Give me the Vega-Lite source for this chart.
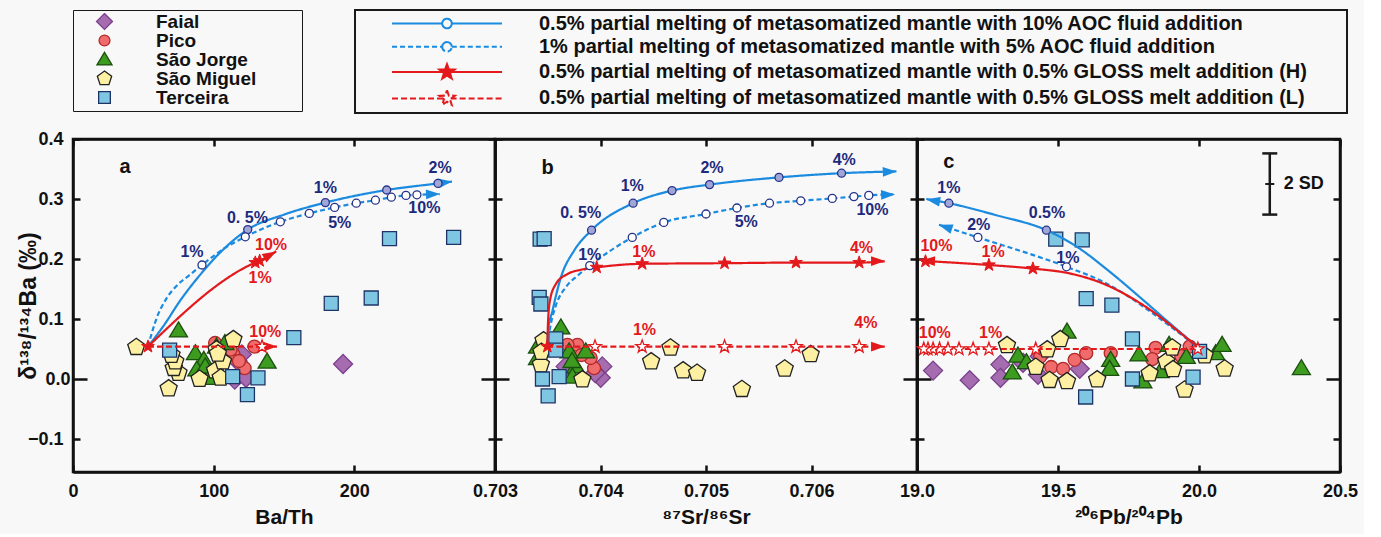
{
"$schema": "https://vega.github.io/schema/vega-lite/v6.json",
"background": "#f8f8f8",
"padding": {"left": 16, "top": 9, "right": 5, "bottom": 5},
"spacing": 0,
"bounds": "flush",
"datasets": {
"pts": [
{"p":"a","i":"Faial","x":192,"y":0.025},{"p":"a","i":"Faial","x":120,"y":0.041},{"p":"a","i":"Faial","x":115,"y":-0.001},{"p":"a","i":"Faial","x":123,"y":0.002},{"p":"a","i":"Faial","x":117,"y":0.03},
{"p":"a","i":"Pico","x":129,"y":0.054},{"p":"a","i":"Pico","x":114,"y":0.041},{"p":"a","i":"Pico","x":122,"y":0.018},{"p":"a","i":"Pico","x":112,"y":0.049},{"p":"a","i":"Pico","x":101,"y":0.06},{"p":"a","i":"Pico","x":118,"y":0.03},
{"p":"a","i":"São Jorge","x":75,"y":0.081},{"p":"a","i":"São Jorge","x":87,"y":0.043},{"p":"a","i":"São Jorge","x":138,"y":0.029},{"p":"a","i":"São Jorge","x":93,"y":0.032},{"p":"a","i":"São Jorge","x":88,"y":0.016},{"p":"a","i":"São Jorge","x":96,"y":0.002},{"p":"a","i":"São Jorge","x":102,"y":0.054},{"p":"a","i":"São Jorge","x":94,"y":0.021},{"p":"a","i":"São Jorge","x":108,"y":0.06},
{"p":"a","i":"São Miguel","x":45,"y":0.053},{"p":"a","i":"São Miguel","x":68,"y":-0.016},{"p":"a","i":"São Miguel","x":75,"y":0.01},{"p":"a","i":"São Miguel","x":71.6,"y":0.018},{"p":"a","i":"São Miguel","x":72.7,"y":0.029},{"p":"a","i":"São Miguel","x":90,"y":0.0},{"p":"a","i":"São Miguel","x":101,"y":0.014},{"p":"a","i":"São Miguel","x":102,"y":0.049},{"p":"a","i":"São Miguel","x":114,"y":0.066},{"p":"a","i":"São Miguel","x":106.6,"y":0.029},{"p":"a","i":"São Miguel","x":105,"y":0.002},{"p":"a","i":"São Miguel","x":70,"y":0.04},{"p":"a","i":"São Miguel","x":103,"y":0.042},
{"p":"a","i":"Terceira","x":68.7,"y":0.048},{"p":"a","i":"Terceira","x":157,"y":0.069},{"p":"a","i":"Terceira","x":183.6,"y":0.126},{"p":"a","i":"Terceira","x":212,"y":0.135},{"p":"a","i":"Terceira","x":113.5,"y":0.004},{"p":"a","i":"Terceira","x":131.5,"y":0.002},{"p":"a","i":"Terceira","x":124,"y":-0.026},{"p":"a","i":"Terceira","x":225,"y":0.234},{"p":"a","i":"Terceira","x":270.6,"y":0.236},
{"p":"b","i":"Faial","x":0.704017,"y":0.021},{"p":"b","i":"Faial","x":0.704002,"y":0.002},{"p":"b","i":"Faial","x":0.70367,"y":0.021},{"p":"b","i":"Faial","x":0.70395,"y":0.01},
{"p":"b","i":"Pico","x":0.703781,"y":0.057},{"p":"b","i":"Pico","x":0.703687,"y":0.057},{"p":"b","i":"Pico","x":0.703939,"y":0.018},{"p":"b","i":"Pico","x":0.703907,"y":0.035},{"p":"b","i":"Pico","x":0.70382,"y":0.04},
{"p":"b","i":"São Jorge","x":0.703624,"y":0.086},{"p":"b","i":"São Jorge","x":0.703702,"y":0.046},{"p":"b","i":"São Jorge","x":0.70386,"y":0.046},{"p":"b","i":"São Jorge","x":0.703765,"y":0.021},{"p":"b","i":"São Jorge","x":0.703734,"y":0.004},{"p":"b","i":"São Jorge","x":0.703403,"y":0.054},{"p":"b","i":"São Jorge","x":0.703403,"y":0.035},{"p":"b","i":"São Jorge","x":0.70373,"y":0.03},
{"p":"b","i":"São Miguel","x":0.704663,"y":0.052},{"p":"b","i":"São Miguel","x":0.70448,"y":0.029},{"p":"b","i":"São Miguel","x":0.704783,"y":0.014},{"p":"b","i":"São Miguel","x":0.704915,"y":0.01},{"p":"b","i":"São Miguel","x":0.70534,"y":-0.017},{"p":"b","i":"São Miguel","x":0.705746,"y":0.017},{"p":"b","i":"São Miguel","x":0.705992,"y":0.041},{"p":"b","i":"São Miguel","x":0.703828,"y":-0.001},{"p":"b","i":"São Miguel","x":0.703435,"y":0.024},{"p":"b","i":"São Miguel","x":0.70346,"y":0.064},{"p":"b","i":"São Miguel","x":0.70344,"y":0.045},
{"p":"b","i":"Terceira","x":0.703428,"y":0.233},{"p":"b","i":"Terceira","x":0.703466,"y":0.234},{"p":"b","i":"Terceira","x":0.703419,"y":0.136},{"p":"b","i":"Terceira","x":0.703435,"y":0.125},{"p":"b","i":"Terceira","x":0.703576,"y":0.067},{"p":"b","i":"Terceira","x":0.703576,"y":0.048},{"p":"b","i":"Terceira","x":0.70345,"y":0.0},{"p":"b","i":"Terceira","x":0.703608,"y":0.004},{"p":"b","i":"Terceira","x":0.703504,"y":-0.028},
{"p":"c","i":"Faial","x":19.057,"y":0.014},{"p":"c","i":"Faial","x":19.187,"y":-0.002},{"p":"c","i":"Faial","x":19.296,"y":0.024},{"p":"c","i":"Faial","x":19.296,"y":0.002},{"p":"c","i":"Faial","x":19.429,"y":0.007},{"p":"c","i":"Faial","x":19.577,"y":0.017},{"p":"c","i":"Faial","x":19.376,"y":0.027},{"p":"c","i":"Faial","x":19.435,"y":0.038},
{"p":"c","i":"Pico","x":19.476,"y":0.02},{"p":"c","i":"Pico","x":19.518,"y":0.017},{"p":"c","i":"Pico","x":19.559,"y":0.032},{"p":"c","i":"Pico","x":19.6,"y":0.043},{"p":"c","i":"Pico","x":19.687,"y":0.043},{"p":"c","i":"Pico","x":19.846,"y":0.052},{"p":"c","i":"Pico","x":19.834,"y":0.033},{"p":"c","i":"Pico","x":19.967,"y":0.054},{"p":"c","i":"Pico","x":19.937,"y":0.038},{"p":"c","i":"Pico","x":19.437,"y":0.037},
{"p":"c","i":"São Jorge","x":19.532,"y":0.079},{"p":"c","i":"São Jorge","x":19.358,"y":0.039},{"p":"c","i":"São Jorge","x":19.388,"y":0.028},{"p":"c","i":"São Jorge","x":19.338,"y":0.011},{"p":"c","i":"São Jorge","x":19.687,"y":0.032},{"p":"c","i":"São Jorge","x":19.683,"y":0.017},{"p":"c","i":"São Jorge","x":19.787,"y":0.041},{"p":"c","i":"São Jorge","x":19.801,"y":-0.004},{"p":"c","i":"São Jorge","x":19.863,"y":0.013},{"p":"c","i":"São Jorge","x":19.894,"y":0.057},{"p":"c","i":"São Jorge","x":19.955,"y":0.037},{"p":"c","i":"São Jorge","x":20.059,"y":0.043},{"p":"c","i":"São Jorge","x":20.082,"y":0.057},{"p":"c","i":"São Jorge","x":20.363,"y":0.018},
{"p":"c","i":"São Miguel","x":19.319,"y":0.056},{"p":"c","i":"São Miguel","x":19.508,"y":0.066},{"p":"c","i":"São Miguel","x":19.462,"y":0.049},{"p":"c","i":"São Miguel","x":19.421,"y":0.02},{"p":"c","i":"São Miguel","x":19.47,"y":-0.002},{"p":"c","i":"São Miguel","x":19.532,"y":-0.004},{"p":"c","i":"São Miguel","x":19.639,"y":-0.001},{"p":"c","i":"São Miguel","x":19.825,"y":0.009},{"p":"c","i":"São Miguel","x":19.884,"y":0.029},{"p":"c","i":"São Miguel","x":19.905,"y":0.052},{"p":"c","i":"São Miguel","x":19.908,"y":0.016},{"p":"c","i":"São Miguel","x":19.949,"y":-0.018},{"p":"c","i":"São Miguel","x":20.02,"y":0.039},{"p":"c","i":"São Miguel","x":20.091,"y":0.017},
{"p":"c","i":"Terceira","x":19.492,"y":0.233},{"p":"c","i":"Terceira","x":19.586,"y":0.232},{"p":"c","i":"Terceira","x":19.6,"y":0.134},{"p":"c","i":"Terceira","x":19.691,"y":0.123},{"p":"c","i":"Terceira","x":19.764,"y":0.067},{"p":"c","i":"Terceira","x":19.764,"y":0.0},{"p":"c","i":"Terceira","x":19.979,"y":0.003},{"p":"c","i":"Terceira","x":19.598,"y":-0.03},{"p":"c","i":"Terceira","x":20.002,"y":0.046}
],
"curves": [
{"p":"a","m":"s10","x":53.3,"y":0.054},{"p":"a","m":"s10","x":64.5,"y":0.089},{"p":"a","m":"s10","x":76.3,"y":0.131},{"p":"a","m":"s10","x":90.5,"y":0.174},{"p":"a","m":"s10","x":104.7,"y":0.211},{"p":"a","m":"s10","x":124.2,"y":0.249},{"p":"a","m":"s10","x":150,"y":0.274},{"p":"a","m":"s10","x":179.4,"y":0.294},{"p":"a","m":"s10","x":223,"y":0.315},{"p":"a","m":"s10","x":259.5,"y":0.326},{"p":"a","m":"s10","x":269.4,"y":0.329},
{"p":"a","m":"d5","x":53.3,"y":0.054},{"p":"a","m":"d5","x":56.2,"y":0.078},{"p":"a","m":"d5","x":59.7,"y":0.103},{"p":"a","m":"d5","x":65.6,"y":0.131},{"p":"a","m":"d5","x":73.9,"y":0.156},{"p":"a","m":"d5","x":82.2,"y":0.172},{"p":"a","m":"d5","x":91.7,"y":0.19},{"p":"a","m":"d5","x":107.1,"y":0.217},{"p":"a","m":"d5","x":122.5,"y":0.237},{"p":"a","m":"d5","x":147.4,"y":0.262},{"p":"a","m":"d5","x":168,"y":0.276},{"p":"a","m":"d5","x":186,"y":0.286},{"p":"a","m":"d5","x":201.4,"y":0.293},{"p":"a","m":"d5","x":215,"y":0.298},{"p":"a","m":"d5","x":226.3,"y":0.303},{"p":"a","m":"d5","x":236.7,"y":0.306},{"p":"a","m":"d5","x":244.5,"y":0.307},{"p":"a","m":"d5","x":260.7,"y":0.308},
{"p":"a","m":"gh","x":53.3,"y":0.054},{"p":"a","m":"gh","x":129.6,"y":0.194},{"p":"a","m":"gh","x":132.7,"y":0.197},{"p":"a","m":"gh","x":144.5,"y":0.213},
{"p":"a","m":"gl","x":53.3,"y":0.054},{"p":"a","m":"gl","x":145,"y":0.054},
{"p":"b","m":"s10","x":0.703496,"y":0.054},{"p":"b","m":"s10","x":0.703504,"y":0.081},{"p":"b","m":"s10","x":0.703545,"y":0.114},{"p":"b","m":"s10","x":0.703624,"y":0.169},{"p":"b","m":"s10","x":0.70375,"y":0.214},{"p":"b","m":"s10","x":0.703915,"y":0.248},{"p":"b","m":"s10","x":0.704309,"y":0.293},{"p":"b","m":"s10","x":0.704678,"y":0.314},{"p":"b","m":"s10","x":0.705034,"y":0.324},{"p":"b","m":"s10","x":0.705692,"y":0.336},{"p":"b","m":"s10","x":0.706285,"y":0.343},{"p":"b","m":"s10","x":0.706805,"y":0.346},
{"p":"b","m":"d5","x":0.703496,"y":0.054},{"p":"b","m":"d5","x":0.703523,"y":0.086},{"p":"b","m":"d5","x":0.703576,"y":0.122},{"p":"b","m":"d5","x":0.703671,"y":0.153},{"p":"b","m":"d5","x":0.703781,"y":0.172},{"p":"b","m":"d5","x":0.703898,"y":0.189},{"p":"b","m":"d5","x":0.704301,"y":0.236},{"p":"b","m":"d5","x":0.7046,"y":0.261},{"p":"b","m":"d5","x":0.705,"y":0.275},{"p":"b","m":"d5","x":0.705293,"y":0.285},{"p":"b","m":"d5","x":0.705602,"y":0.293},{"p":"b","m":"d5","x":0.705898,"y":0.297},{"p":"b","m":"d5","x":0.706197,"y":0.301},{"p":"b","m":"d5","x":0.706402,"y":0.304},{"p":"b","m":"d5","x":0.706543,"y":0.306},{"p":"b","m":"d5","x":0.706789,"y":0.308},
{"p":"b","m":"gh","x":0.703496,"y":0.054},{"p":"b","m":"gh","x":0.703502,"y":0.092},{"p":"b","m":"gh","x":0.703521,"y":0.131},{"p":"b","m":"gh","x":0.703576,"y":0.158},{"p":"b","m":"gh","x":0.703687,"y":0.175},{"p":"b","m":"gh","x":0.703813,"y":0.182},{"p":"b","m":"gh","x":0.703964,"y":0.186},{"p":"b","m":"gh","x":0.704395,"y":0.192},{"p":"b","m":"gh","x":0.705176,"y":0.193},{"p":"b","m":"gh","x":0.705853,"y":0.194},{"p":"b","m":"gh","x":0.706452,"y":0.194},{"p":"b","m":"gh","x":0.706694,"y":0.196},
{"p":"b","m":"gl","x":0.703496,"y":0.054},{"p":"b","m":"gl","x":0.706694,"y":0.054},
{"p":"c","m":"s10","x":19.033,"y":0.3},{"p":"c","m":"s10","x":19.113,"y":0.293},{"p":"c","m":"s10","x":19.281,"y":0.273},{"p":"c","m":"s10","x":19.459,"y":0.248},{"p":"c","m":"s10","x":19.565,"y":0.221},{"p":"c","m":"s10","x":19.683,"y":0.179},{"p":"c","m":"s10","x":19.801,"y":0.132},{"p":"c","m":"s10","x":19.896,"y":0.093},{"p":"c","m":"s10","x":19.996,"y":0.053},
{"p":"c","m":"d5","x":19.078,"y":0.257},{"p":"c","m":"d5","x":19.216,"y":0.236},{"p":"c","m":"d5","x":19.53,"y":0.187},{"p":"c","m":"d5","x":19.66,"y":0.162},{"p":"c","m":"d5","x":19.742,"y":0.14},{"p":"c","m":"d5","x":19.86,"y":0.101},{"p":"c","m":"d5","x":19.996,"y":0.053},
{"p":"c","m":"gh","x":19.015,"y":0.197},{"p":"c","m":"gh","x":19.255,"y":0.19},{"p":"c","m":"gh","x":19.411,"y":0.184},{"p":"c","m":"gh","x":19.541,"y":0.176},{"p":"c","m":"gh","x":19.66,"y":0.159},{"p":"c","m":"gh","x":19.754,"y":0.137},{"p":"c","m":"gh","x":19.837,"y":0.112},{"p":"c","m":"gh","x":19.92,"y":0.082},{"p":"c","m":"gh","x":19.996,"y":0.053},
{"p":"c","m":"gl","x":19.01,"y":0.05},{"p":"c","m":"gl","x":19.996,"y":0.05}
],
"arrows": [
{"p":"a","m":"s10","x":264.6,"y":0.3275,"h":82},{"p":"a","m":"d5","x":255.9,"y":0.308,"h":88},{"p":"a","m":"gh","x":140.2,"y":0.207,"h":61},{"p":"a","m":"gl","x":140.2,"y":0.054,"h":90},
{"p":"b","m":"s10","x":0.706742,"y":0.3456,"h":88},{"p":"b","m":"d5","x":0.706726,"y":0.3072,"h":88},{"p":"b","m":"gh","x":0.706631,"y":0.1965,"h":90},{"p":"b","m":"gl","x":0.706631,"y":0.054,"h":90},
{"p":"c","m":"s10","x":19.057,"y":0.2975,"h":280},{"p":"c","m":"d5","x":19.1005,"y":0.2533,"h":288},{"p":"c","m":"gh","x":19.039,"y":0.1967,"h":272}
],
"nodes": [
{"p":"a","m":"s10","x":124.2,"y":0.249},{"p":"a","m":"s10","x":179.4,"y":0.294},{"p":"a","m":"s10","x":223,"y":0.315},{"p":"a","m":"s10","x":259.5,"y":0.326},
{"p":"a","m":"d5","x":91.7,"y":0.19},{"p":"a","m":"d5","x":122.5,"y":0.237},{"p":"a","m":"d5","x":147.4,"y":0.262},{"p":"a","m":"d5","x":168,"y":0.276},{"p":"a","m":"d5","x":186,"y":0.286},{"p":"a","m":"d5","x":201.4,"y":0.293},{"p":"a","m":"d5","x":215,"y":0.298},{"p":"a","m":"d5","x":226.3,"y":0.303},{"p":"a","m":"d5","x":236.7,"y":0.306},{"p":"a","m":"d5","x":244.5,"y":0.307},
{"p":"a","m":"gh","x":53.3,"y":0.054},{"p":"a","m":"gh","x":129.6,"y":0.194},{"p":"a","m":"gh","x":132.7,"y":0.197},
{"p":"a","m":"gl","x":134.4,"y":0.054},
{"p":"b","m":"s10","x":0.703915,"y":0.248},{"p":"b","m":"s10","x":0.704309,"y":0.293},{"p":"b","m":"s10","x":0.704678,"y":0.314},{"p":"b","m":"s10","x":0.705034,"y":0.324},{"p":"b","m":"s10","x":0.705692,"y":0.336},{"p":"b","m":"s10","x":0.706285,"y":0.343},
{"p":"b","m":"d5","x":0.703898,"y":0.189},{"p":"b","m":"d5","x":0.704301,"y":0.236},{"p":"b","m":"d5","x":0.7046,"y":0.261},{"p":"b","m":"d5","x":0.705,"y":0.275},{"p":"b","m":"d5","x":0.705293,"y":0.285},{"p":"b","m":"d5","x":0.705602,"y":0.293},{"p":"b","m":"d5","x":0.705898,"y":0.297},{"p":"b","m":"d5","x":0.706197,"y":0.301},{"p":"b","m":"d5","x":0.706402,"y":0.304},{"p":"b","m":"d5","x":0.706543,"y":0.306},
{"p":"b","m":"gh","x":0.703496,"y":0.054},{"p":"b","m":"gh","x":0.703964,"y":0.186},{"p":"b","m":"gh","x":0.704395,"y":0.192},{"p":"b","m":"gh","x":0.705176,"y":0.193},{"p":"b","m":"gh","x":0.705853,"y":0.194},{"p":"b","m":"gh","x":0.706452,"y":0.194},
{"p":"b","m":"gl","x":0.703948,"y":0.054},{"p":"b","m":"gl","x":0.704395,"y":0.054},{"p":"b","m":"gl","x":0.705176,"y":0.054},{"p":"b","m":"gl","x":0.705853,"y":0.054},{"p":"b","m":"gl","x":0.706452,"y":0.054},
{"p":"c","m":"s10","x":19.459,"y":0.248},{"p":"c","m":"s10","x":19.113,"y":0.293},
{"p":"c","m":"d5","x":19.53,"y":0.187},{"p":"c","m":"d5","x":19.216,"y":0.236},
{"p":"c","m":"gh","x":19.411,"y":0.184},{"p":"c","m":"gh","x":19.255,"y":0.19},{"p":"c","m":"gh","x":19.03,"y":0.196},
{"p":"c","m":"gl","x":19.996,"y":0.05},{"p":"c","m":"gl","x":19.421,"y":0.05},{"p":"c","m":"gl","x":19.255,"y":0.05},{"p":"c","m":"gl","x":19.199,"y":0.05},{"p":"c","m":"gl","x":19.149,"y":0.05},{"p":"c","m":"gl","x":19.11,"y":0.05},{"p":"c","m":"gl","x":19.08,"y":0.05},{"p":"c","m":"gl","x":19.057,"y":0.05},{"p":"c","m":"gl","x":19.039,"y":0.05},{"p":"c","m":"gl","x":19.024,"y":0.05}
],
"labels": [
{"p":"a","t":"a","x":37,"y":0.354,"k":"b"},{"p":"a","t":"2%","x":261,"y":0.351,"k":"n"},{"p":"a","t":"1%","x":179.4,"y":0.319,"k":"n"},{"p":"a","t":"0. 5%","x":124,"y":0.269,"k":"n"},{"p":"a","t":"1%","x":84.6,"y":0.212,"k":"n"},{"p":"a","t":"5%","x":189.6,"y":0.26,"k":"n"},{"p":"a","t":"10%","x":249.8,"y":0.285,"k":"n"},{"p":"a","t":"10%","x":140.8,"y":0.223,"k":"r"},{"p":"a","t":"1%","x":133,"y":0.169,"k":"r"},{"p":"a","t":"10%","x":136.7,"y":0.078,"k":"r"},
{"p":"b","t":"b","x":0.703498,"y":0.351,"k":"b"},{"p":"b","t":"0. 5%","x":0.703812,"y":0.276,"k":"n"},{"p":"b","t":"1%","x":0.704301,"y":0.321,"k":"n"},{"p":"b","t":"2%","x":0.705057,"y":0.351,"k":"n"},{"p":"b","t":"4%","x":0.70631,"y":0.365,"k":"n"},{"p":"b","t":"5%","x":0.705381,"y":0.261,"k":"n"},{"p":"b","t":"10%","x":0.706578,"y":0.282,"k":"n"},{"p":"b","t":"1%","x":0.703898,"y":0.207,"k":"n"},{"p":"b","t":"1%","x":0.704411,"y":0.212,"k":"r"},{"p":"b","t":"4%","x":0.706474,"y":0.219,"k":"r"},{"p":"b","t":"1%","x":0.704417,"y":0.082,"k":"r"},{"p":"b","t":"4%","x":0.706515,"y":0.093,"k":"r"},
{"p":"c","t":"c","x":19.113,"y":0.362,"k":"b"},{"p":"c","t":"1%","x":19.113,"y":0.318,"k":"n"},{"p":"c","t":"0.5%","x":19.461,"y":0.276,"k":"n"},{"p":"c","t":"2%","x":19.219,"y":0.257,"k":"n"},{"p":"c","t":"1%","x":19.535,"y":0.201,"k":"n"},{"p":"c","t":"10%","x":19.069,"y":0.221,"k":"r"},{"p":"c","t":"1%","x":19.27,"y":0.211,"k":"r"},{"p":"c","t":"10%","x":19.063,"y":0.076,"k":"r"},{"p":"c","t":"1%","x":19.261,"y":0.076,"k":"r"}
],
"sd": [{"x":20.251,"lo":0.274,"hi":0.376,"y":0.325,"t":"2 SD"}]
},
"hconcat": [
{
"width": 422, "height": 333,
"encoding": {
 "x": {"field":"x","type":"quantitative","axis":null,"scale":{"domain":[0,300],"nice":false,"zero":false}},
 "y": {"field":"y","type":"quantitative","axis":null,"scale":{"domain":[-0.155,0.4],"nice":false,"zero":false}}
},
"resolve": {"axis": {"x":"independent","y":"independent"}},
"layer": [
 {"data":{"name":"pts"},"transform":[{"filter":"datum.p === 'a'"}],
  "mark":{"type":"point","filled":true,"opacity":1,"size":400,"strokeWidth":1.3},
  "encoding":{
   "x":{"field":"x","type":"quantitative","scale":{"domain":[0,300],"nice":false,"zero":false},"axis":{"orient":"bottom","values":[0,100,200],"format":"d","tickSize":-7,"labelPadding":17,"title":"Ba/Th","titleFontSize":21,"titlePadding":6}},
   "y":{"field":"y","type":"quantitative","scale":{"domain":[-0.155,0.4],"nice":false,"zero":false},"axis":{"orient":"left","values":[-0.1,0,0.1,0.2,0.3,0.4],"format":".1f","tickSize":{"condition":{"test":"datum.value === 0","value":-14},"value":-7},"labelPadding":17,"title":"δ¹³⁸/¹³⁴Ba (‰)","titleFontSize":23,"titlePadding":-13}},
   "shape":{"field":"i","type":"nominal","scale":{"domain":["Faial","Pico","São Jorge","São Miguel","Terceira"],"range":["M0,-0.95L0.95,0L0,0.95L-0.95,0Z","M-0.65,0A0.65,0.65,0,1,1,0.65,0A0.65,0.65,0,1,1,-0.65,0Z","M0,-0.85L0.9,0.65L-0.9,0.65Z","M0,-0.9L0.856,-0.278L0.529,0.728L-0.529,0.728L-0.856,-0.278Z","M-0.7,-0.7H0.7V0.7H-0.7Z"]},
    "legend":{"orient":"none","legendX":0,"legendY":-129,"title":"\u00a0","titleOrient":"right","titlePadding":43,"titleFontSize":4,"padding":3,"strokeColor":"#1a1a1a","labelFont":"Liberation Sans","labelFontWeight":"bold","labelFontSize":19,"labelColor":"#111","labelLimit":400,"symbolSize":280,"symbolOffset":19,"labelOffset":42,"rowPadding":-2,"clipHeight":17,"symbolStrokeWidth":1.3,"symbolOpacity":1,"encode":{"legend":{"update":{"strokeWidth":{"value":2}}}}}},
   "fill":{"field":"i","type":"nominal","scale":{"domain":["Faial","Pico","São Jorge","São Miguel","Terceira"],"range":["#a56db0","#f06b6b","#3d9b1f","#fdf0a2","#7fc6e2"]}},
   "stroke":{"field":"i","type":"nominal","scale":{"domain":["Faial","Pico","São Jorge","São Miguel","Terceira"],"range":["#7a3f8c","#b22a2a","#1b4f0f","#222222","#1d3566"]}}
  }},
 {"data":{"name":"curves"},"transform":[{"filter":"datum.p === 'a'"}],
  "mark":{"type":"line","strokeWidth":2.2,"interpolate":"monotone"},
  "encoding":{
   "x":{"field":"x","type":"quantitative","axis":{"orient":"top","values":[0,100,200],"labels":false,"tickSize":-7,"title":null}},
   "y":{"field":"y","type":"quantitative","axis":{"orient":"right","values":[-0.1,0,0.1,0.2,0.3,0.4],"labels":false,"tickSize":{"condition":{"test":"datum.value === 0","value":-14},"value":-7},"title":null}},
   "color":{"field":"m","type":"nominal","scale":{"domain":["s10","d5","gh","gl"],"range":["#1b8be0","#1b8be0","#e3191c","#e3191c"]},
    "legend":{"orient":"none","legendX":282,"legendY":-129,"title":"\u00a0","titleOrient":"right","titlePadding":36.5,"titleFontSize":4,"padding":3.5,"strokeColor":"#1a1a1a","labelFont":"Liberation Sans","labelFontWeight":"bold","labelFontSize":20,"labelColor":"#111","labelLimit":1200,
     "labelExpr":"datum.value === 's10' ? '0.5% partial melting of metasomatized mantle with 10% AOC fluid addition' : datum.value === 'd5' ? '1% partial melting of metasomatized mantle with 5% AOC fluid addition' : datum.value === 'gh' ? '0.5% partial melting of metasomatized mantle with 0.5% GLOSS melt addition (H)' : '0.5% partial melting of metasomatized mantle with 0.5% GLOSS melt addition (L)'",
     "symbolSize":256,"symbolOffset":78.5,"labelOffset":82,"rowPadding":3.3,"symbolStrokeWidth":2,"symbolOpacity":1,
     "encode":{"legend":{"update":{"strokeWidth":{"value":2}}},
      "symbols":{"update":{
       "shape":{"signal":"datum.value === 'gh' ? 'M-6.875,0H-0.5M0.5,0H6.875M0,-1L0.24,-0.33L0.95,-0.31L0.38,0.12L0.59,0.81L0,0.42L-0.59,0.81L-0.38,0.12L-0.95,-0.31L-0.24,-0.33Z' : datum.value === 'gl' ? 'M-6.875,0H-0.45M0.45,0H6.875M0,-1L0.24,-0.33L0.95,-0.31L0.38,0.12L0.59,0.81L0,0.42L-0.59,0.81L-0.38,0.12L-0.95,-0.31L-0.24,-0.33L0,-1L-0.24,-0.33L-0.95,-0.31L-0.38,0.12L-0.59,0.81L0,0.42L0.59,0.81L0.38,0.12L0.95,-0.31L0.24,-0.33Z' : 'M-6.875,0H-0.6A0.6,0.6,0,0,1,0.6,0A0.6,0.6,0,0,0,-0.6,0A0.6,0.6,0,0,0,0.6,0A0.6,0.6,0,0,1,-0.6,0M0.6,0H6.875'"},
       "strokeDash":{"signal":"datum.value === 'd5' || datum.value === 'gl' ? [4, 2] : []"}}}}}},
   "strokeDash":{"field":"m","type":"nominal","scale":{"domain":["s10","d5","gh","gl"],"range":[[1,0],[5,3],[1,0],[6,3]]},"legend":null}
  }},
 {"data":{"name":"arrows"},"transform":[{"filter":"datum.p === 'a'"}],
  "mark":{"type":"point","filled":true,"opacity":1,"size":196,"shape":"M0,-1L0.7,1L-0.7,1Z"},
  "encoding":{"color":{"field":"m","type":"nominal","legend":null},"angle":{"field":"h","type":"quantitative","scale":null}}},
 {"data":{"name":"nodes"},"transform":[{"filter":"datum.p === 'a' && datum.m === 's10'"}],
  "mark":{"type":"point","shape":"circle","size":64,"filled":true,"opacity":1,"fill":"#a0a6d6","stroke":"#26338a","strokeWidth":1.3}},
 {"data":{"name":"nodes"},"transform":[{"filter":"datum.p === 'a' && datum.m === 'd5'"}],
  "mark":{"type":"point","shape":"circle","size":64,"filled":true,"opacity":1,"fill":"#ffffff","stroke":"#26338a","strokeWidth":1.3}},
 {"data":{"name":"nodes"},"transform":[{"filter":"datum.p === 'a' && datum.m === 'gh'"}],
  "mark":{"type":"point","shape":"M0,-1L0.235,-0.324L0.951,-0.309L0.38,0.124L0.588,0.809L0,0.4L-0.588,0.809L-0.38,0.124L-0.951,-0.309L-0.235,-0.324Z","size":180,"filled":true,"opacity":1,"fill":"#e3191c","stroke":"#e3191c","strokeWidth":1}},
 {"data":{"name":"nodes"},"transform":[{"filter":"datum.p === 'a' && datum.m === 'gl'"}],
  "mark":{"type":"point","shape":"M0,-1L0.235,-0.324L0.951,-0.309L0.38,0.124L0.588,0.809L0,0.4L-0.588,0.809L-0.38,0.124L-0.951,-0.309L-0.235,-0.324Z","size":180,"filled":true,"opacity":1,"fill":"#ffffff","stroke":"#e3191c","strokeWidth":1.3}},
 {"data":{"name":"labels"},"transform":[{"filter":"datum.p === 'a' && datum.k === 'n'"}],
  "mark":{"type":"text","font":"Liberation Sans","fontWeight":"bold","fontSize":16,"color":"#1d2a7d"},"encoding":{"text":{"field":"t"}}},
 {"data":{"name":"labels"},"transform":[{"filter":"datum.p === 'a' && datum.k === 'r'"}],
  "mark":{"type":"text","font":"Liberation Sans","fontWeight":"bold","fontSize":16,"color":"#e3191c"},"encoding":{"text":{"field":"t"}}},
 {"data":{"name":"labels"},"transform":[{"filter":"datum.p === 'a' && datum.k === 'b'"}],
  "mark":{"type":"text","font":"Liberation Sans","fontWeight":"bold","fontSize":20,"color":"#111111"},"encoding":{"text":{"field":"t"}}}
]
},
{
"width": 422, "height": 333,
"encoding": {
 "x": {"field":"x","type":"quantitative","axis":null,"scale":{"domain":[0.703,0.707],"nice":false,"zero":false}},
 "y": {"field":"y","type":"quantitative","axis":null,"scale":{"domain":[-0.155,0.4],"nice":false,"zero":false}}
},
"resolve": {"axis": {"x":"independent","y":"independent"}},
"layer": [
 {"data":{"name":"pts"},"transform":[{"filter":"datum.p === 'b'"}],
  "mark":{"type":"point","filled":true,"opacity":1,"size":400,"strokeWidth":1.3},
  "encoding":{
   "x":{"field":"x","type":"quantitative","scale":{"domain":[0.703,0.707],"nice":false,"zero":false},"axis":{"orient":"bottom","values":[0.703,0.704,0.705,0.706],"format":".3f","tickSize":-7,"labelPadding":17,"title":"⁸⁷Sr/⁸⁶Sr","titleFontSize":21,"titlePadding":6}},
   "y":{"field":"y","type":"quantitative","scale":{"domain":[-0.155,0.4],"nice":false,"zero":false},"axis":{"orient":"left","values":[-0.1,0,0.1,0.2,0.3,0.4],"labels":false,"tickSize":{"condition":{"test":"datum.value === 0","value":-14},"value":-7},"title":null}},
   "shape":{"field":"i","type":"nominal","legend":null},
   "fill":{"field":"i","type":"nominal","legend":null},
   "stroke":{"field":"i","type":"nominal","legend":null}
  }},
 {"data":{"name":"curves"},"transform":[{"filter":"datum.p === 'b'"}],
  "mark":{"type":"line","strokeWidth":2.2,"interpolate":"monotone"},
  "encoding":{
   "x":{"field":"x","type":"quantitative","axis":{"orient":"top","values":[0.703,0.704,0.705,0.706],"labels":false,"tickSize":-7,"title":null}},
   "y":{"field":"y","type":"quantitative","axis":{"orient":"right","values":[-0.1,0,0.1,0.2,0.3,0.4],"labels":false,"tickSize":{"condition":{"test":"datum.value === 0","value":-14},"value":-7},"title":null}},
   "color":{"field":"m","type":"nominal","legend":null},
   "strokeDash":{"field":"m","type":"nominal","legend":null}
  }},
 {"data":{"name":"arrows"},"transform":[{"filter":"datum.p === 'b'"}],
  "mark":{"type":"point","filled":true,"opacity":1,"size":196,"shape":"M0,-1L0.7,1L-0.7,1Z"},
  "encoding":{"color":{"field":"m","type":"nominal","legend":null},"angle":{"field":"h","type":"quantitative","scale":null}}},
 {"data":{"name":"nodes"},"transform":[{"filter":"datum.p === 'b' && datum.m === 's10'"}],
  "mark":{"type":"point","shape":"circle","size":64,"filled":true,"opacity":1,"fill":"#a0a6d6","stroke":"#26338a","strokeWidth":1.3}},
 {"data":{"name":"nodes"},"transform":[{"filter":"datum.p === 'b' && datum.m === 'd5'"}],
  "mark":{"type":"point","shape":"circle","size":64,"filled":true,"opacity":1,"fill":"#ffffff","stroke":"#26338a","strokeWidth":1.3}},
 {"data":{"name":"nodes"},"transform":[{"filter":"datum.p === 'b' && datum.m === 'gh'"}],
  "mark":{"type":"point","shape":"M0,-1L0.235,-0.324L0.951,-0.309L0.38,0.124L0.588,0.809L0,0.4L-0.588,0.809L-0.38,0.124L-0.951,-0.309L-0.235,-0.324Z","size":180,"filled":true,"opacity":1,"fill":"#e3191c","stroke":"#e3191c","strokeWidth":1}},
 {"data":{"name":"nodes"},"transform":[{"filter":"datum.p === 'b' && datum.m === 'gl'"}],
  "mark":{"type":"point","shape":"M0,-1L0.235,-0.324L0.951,-0.309L0.38,0.124L0.588,0.809L0,0.4L-0.588,0.809L-0.38,0.124L-0.951,-0.309L-0.235,-0.324Z","size":180,"filled":true,"opacity":1,"fill":"#ffffff","stroke":"#e3191c","strokeWidth":1.3}},
 {"data":{"name":"labels"},"transform":[{"filter":"datum.p === 'b' && datum.k === 'n'"}],
  "mark":{"type":"text","font":"Liberation Sans","fontWeight":"bold","fontSize":16,"color":"#1d2a7d"},"encoding":{"text":{"field":"t"}}},
 {"data":{"name":"labels"},"transform":[{"filter":"datum.p === 'b' && datum.k === 'r'"}],
  "mark":{"type":"text","font":"Liberation Sans","fontWeight":"bold","fontSize":16,"color":"#e3191c"},"encoding":{"text":{"field":"t"}}},
 {"data":{"name":"labels"},"transform":[{"filter":"datum.p === 'b' && datum.k === 'b'"}],
  "mark":{"type":"text","font":"Liberation Sans","fontWeight":"bold","fontSize":20,"color":"#111111"},"encoding":{"text":{"field":"t"}}}
]
},
{
"width": 423, "height": 333,
"encoding": {
 "x": {"field":"x","type":"quantitative","axis":null,"scale":{"domain":[19.0,20.5],"nice":false,"zero":false}},
 "y": {"field":"y","type":"quantitative","axis":null,"scale":{"domain":[-0.155,0.4],"nice":false,"zero":false}}
},
"resolve": {"axis": {"x":"independent","y":"independent"}},
"layer": [
 {"data":{"name":"pts"},"transform":[{"filter":"datum.p === 'c'"}],
  "mark":{"type":"point","filled":true,"opacity":1,"size":400,"strokeWidth":1.3},
  "encoding":{
   "x":{"field":"x","type":"quantitative","scale":{"domain":[19.0,20.5],"nice":false,"zero":false},"axis":{"orient":"bottom","values":[19.0,19.5,20.0,20.5],"format":".1f","tickSize":-7,"labelPadding":17,"title":"²⁰⁶Pb/²⁰⁴Pb","titleFontSize":21,"titlePadding":6}},
   "y":{"field":"y","type":"quantitative","scale":{"domain":[-0.155,0.4],"nice":false,"zero":false},"axis":{"orient":"left","values":[-0.1,0,0.1,0.2,0.3,0.4],"labels":false,"tickSize":{"condition":{"test":"datum.value === 0","value":-14},"value":-7},"title":null}},
   "shape":{"field":"i","type":"nominal","legend":null},
   "fill":{"field":"i","type":"nominal","legend":null},
   "stroke":{"field":"i","type":"nominal","legend":null}
  }},
 {"data":{"name":"curves"},"transform":[{"filter":"datum.p === 'c'"}],
  "mark":{"type":"line","strokeWidth":2.2,"interpolate":"monotone"},
  "encoding":{
   "x":{"field":"x","type":"quantitative","axis":{"orient":"top","values":[19.0,19.5,20.0,20.5],"labels":false,"tickSize":-7,"title":null}},
   "y":{"field":"y","type":"quantitative","axis":{"orient":"right","values":[-0.1,0,0.1,0.2,0.3,0.4],"labels":false,"tickSize":{"condition":{"test":"datum.value === 0","value":-14},"value":-7},"title":null}},
   "color":{"field":"m","type":"nominal","legend":null},
   "strokeDash":{"field":"m","type":"nominal","legend":null}
  }},
 {"data":{"name":"arrows"},"transform":[{"filter":"datum.p === 'c'"}],
  "mark":{"type":"point","filled":true,"opacity":1,"size":196,"shape":"M0,-1L0.7,1L-0.7,1Z"},
  "encoding":{"color":{"field":"m","type":"nominal","legend":null},"angle":{"field":"h","type":"quantitative","scale":null}}},
 {"data":{"name":"nodes"},"transform":[{"filter":"datum.p === 'c' && datum.m === 's10'"}],
  "mark":{"type":"point","shape":"circle","size":64,"filled":true,"opacity":1,"fill":"#a0a6d6","stroke":"#26338a","strokeWidth":1.3}},
 {"data":{"name":"nodes"},"transform":[{"filter":"datum.p === 'c' && datum.m === 'd5'"}],
  "mark":{"type":"point","shape":"circle","size":64,"filled":true,"opacity":1,"fill":"#ffffff","stroke":"#26338a","strokeWidth":1.3}},
 {"data":{"name":"nodes"},"transform":[{"filter":"datum.p === 'c' && datum.m === 'gh'"}],
  "mark":{"type":"point","shape":"M0,-1L0.235,-0.324L0.951,-0.309L0.38,0.124L0.588,0.809L0,0.4L-0.588,0.809L-0.38,0.124L-0.951,-0.309L-0.235,-0.324Z","size":180,"filled":true,"opacity":1,"fill":"#e3191c","stroke":"#e3191c","strokeWidth":1}},
 {"data":{"name":"nodes"},"transform":[{"filter":"datum.p === 'c' && datum.m === 'gl'"}],
  "mark":{"type":"point","shape":"M0,-1L0.235,-0.324L0.951,-0.309L0.38,0.124L0.588,0.809L0,0.4L-0.588,0.809L-0.38,0.124L-0.951,-0.309L-0.235,-0.324Z","size":180,"filled":true,"opacity":1,"fill":"#ffffff","stroke":"#e3191c","strokeWidth":1.3}},
 {"data":{"name":"labels"},"transform":[{"filter":"datum.p === 'c' && datum.k === 'n'"}],
  "mark":{"type":"text","font":"Liberation Sans","fontWeight":"bold","fontSize":16,"color":"#1d2a7d"},"encoding":{"text":{"field":"t"}}},
 {"data":{"name":"labels"},"transform":[{"filter":"datum.p === 'c' && datum.k === 'r'"}],
  "mark":{"type":"text","font":"Liberation Sans","fontWeight":"bold","fontSize":16,"color":"#e3191c"},"encoding":{"text":{"field":"t"}}},
 {"data":{"name":"labels"},"transform":[{"filter":"datum.p === 'c' && datum.k === 'b'"}],
  "mark":{"type":"text","font":"Liberation Sans","fontWeight":"bold","fontSize":20,"color":"#111111"},"encoding":{"text":{"field":"t"}}},
 {"data":{"name":"sd"},"mark":{"type":"rule","color":"#1a1a1a","strokeWidth":2.5},
  "encoding":{"y":{"field":"lo","type":"quantitative","axis":null},"y2":{"field":"hi"}}},
 {"data":{"name":"sd"},"mark":{"type":"tick","orient":"horizontal","size":15,"thickness":2.5,"color":"#1a1a1a","opacity":1},
  "encoding":{"y":{"field":"lo","type":"quantitative","axis":null}}},
 {"data":{"name":"sd"},"mark":{"type":"tick","orient":"horizontal","size":15,"thickness":2.5,"color":"#1a1a1a","opacity":1},
  "encoding":{"y":{"field":"hi","type":"quantitative","axis":null}}},
 {"data":{"name":"sd"},"mark":{"type":"tick","orient":"horizontal","size":9,"thickness":2,"color":"#1a1a1a","opacity":1}},
 {"data":{"name":"sd"},"mark":{"type":"text","align":"left","baseline":"middle","dx":14,"font":"Liberation Sans","fontWeight":"bold","fontSize":18,"color":"#111111"},
  "encoding":{"text":{"field":"t"}}}
]
}
],
"config": {
 "view": {"stroke": "#111111", "strokeWidth": 2.5},
 "axis": {"domainColor":"#111111","domainWidth":2.5,"tickColor":"#111111","tickWidth":2.5,"grid":false,"labelFont":"Liberation Sans","labelFontWeight":"bold","labelFontSize":18,"labelColor":"#111111","titleFont":"Liberation Sans","titleFontWeight":"bold","titleColor":"#111111","labelFlush":false,"labelOverlap":false,"labelBound":false}
}
}
